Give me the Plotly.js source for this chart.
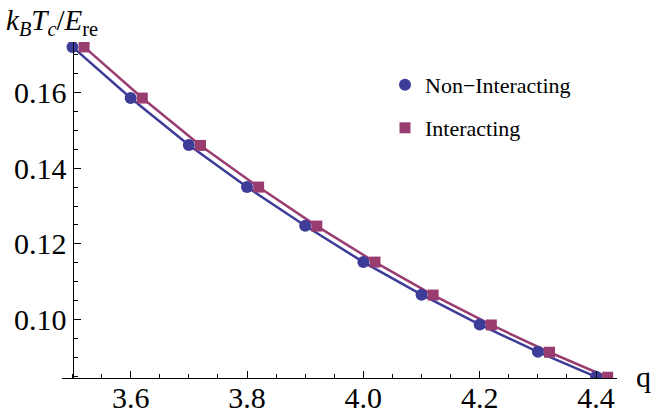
<!DOCTYPE html>
<html>
<head>
<meta charset="utf-8">
<script src="https://cdn.plot.ly/plotly-3.0.1.min.js"></script>
<style>html,body{margin:0;padding:0;background:#fff;}#chart{width:651px;height:419px;}</style>
</head>
<body>
<div id="chart"></div>
<script>
// Data
const qNonInteracting = [3.5, 3.6, 3.7, 3.8, 3.9, 4.0, 4.1, 4.2, 4.3, 4.4];
const tcNonInteracting = [0.1720, 0.1585, 0.1461, 0.1350, 0.1248, 0.1152, 0.1066, 0.0987, 0.0915, 0.0849];
const qInteracting = [3.52, 3.62, 3.72, 3.82, 3.92, 4.02, 4.12, 4.22, 4.32, 4.42];
const tcInteracting = [0.1720, 0.1585, 0.1460, 0.1350, 0.1247, 0.1152, 0.1065, 0.0986, 0.0914, 0.0848];
const seriesNames = ["Non\u2212Interacting", "Interacting"];
const xTickVals = [3.6, 3.8, 4.0, 4.2, 4.4];
const xTickText = ["3.6", "3.8", "4.0", "4.2", "4.4"];
const yTickVals = [0.10, 0.12, 0.14, 0.16];
const yTickText = ["0.10", "0.12", "0.14", "0.16"];

const blue = "#3D3D99";
const purple = "#993D71";
const serif = "Liberation Serif";

const traces = [
  {x: qNonInteracting, y: tcNonInteracting, mode: "lines", line: {color: blue, width: 2.5}, showlegend: false, hoverinfo: "skip"},
  {x: qInteracting, y: tcInteracting, mode: "lines", line: {color: purple, width: 2.5}, showlegend: false, hoverinfo: "skip"},
  {x: qNonInteracting, y: tcNonInteracting, mode: "markers", name: seriesNames[0],
   marker: {symbol: "circle", size: 12, color: blue}, legend: "legend"},
  {x: qInteracting, y: tcInteracting, mode: "markers", name: seriesNames[1],
   marker: {symbol: "square", size: 11, color: purple}, legend: "legend2"}
];

const L = 62, R = 34, T = 42, B = 41;
const W = 651, H = 419;
const pw = W - L - R, ph = H - T - B;
const px2x = p => (p - L) / pw;
const py2y = p => (H - B - p) / ph;

const tickFont = {family: serif, size: 30, color: "#000"};

const layout = {
  width: W, height: H,
  margin: {l: L, r: R, t: T, b: B, pad: 0},
  paper_bgcolor: "#fff", plot_bgcolor: "#fff",
  font: {family: serif, color: "#000", size: 28},
  showlegend: true,
  xaxis: {
    range: [3.482, 4.436],
    showgrid: false, zeroline: false,
    showline: true, linecolor: "#000", linewidth: 1,
    ticks: "inside", ticklen: 7, tickwidth: 1, tickcolor: "#000",
    tickmode: "array", tickvals: xTickVals, ticktext: xTickText,
    tickfont: tickFont,
    ticklabelstandoff: -7,
    minor: {ticks: "inside", dtick: 0.05, tick0: 3.5, ticklen: 4, tickcolor: "#000", showgrid: false}
  },
  yaxis: {
    range: [0.0846, 0.1733],
    anchor: "free", position: px2x(72.5),
    showgrid: false, zeroline: false,
    showline: true, linecolor: "#000", linewidth: 1,
    ticks: "inside", ticklen: 7, tickwidth: 1, tickcolor: "#000",
    tickmode: "array", tickvals: yTickVals, ticktext: yTickText,
    tickfont: tickFont,
    minor: {ticks: "inside", dtick: 0.005, tick0: 0.1, ticklen: 4, tickcolor: "#000", showgrid: false}
  },
  legend: {
    x: px2x(385), y: py2y(85), xanchor: "left", yanchor: "middle",
    bgcolor: "rgba(0,0,0,0)", borderwidth: 0,
    font: {family: serif, size: 22, color: "#000"}, itemsizing: "trace"
  },
  legend2: {
    x: px2x(385), y: py2y(128), xanchor: "left", yanchor: "middle",
    bgcolor: "rgba(0,0,0,0)", borderwidth: 0,
    font: {family: serif, size: 22, color: "#000"}, itemsizing: "trace"
  },
  annotations: [
    {xref: "paper", yref: "paper", x: px2x(4), y: py2y(2), xanchor: "left", yanchor: "top",
     showarrow: false, text: "<i>k</i><sub><i>B</i></sub><i>T</i><sub><i>c</i></sub>/<i>E</i><sub>re</sub>",
     font: {family: serif, size: 29, color: "#000"}},
    {xref: "paper", yref: "paper", x: px2x(634), y: py2y(376), xanchor: "left", yanchor: "middle",
     showarrow: false, text: "q", font: {family: serif, size: 30, color: "#000"}}
  ]
};

Plotly.newPlot("chart", traces, layout, {staticPlot: true, displayModeBar: false});
</script>
</body>
</html>
